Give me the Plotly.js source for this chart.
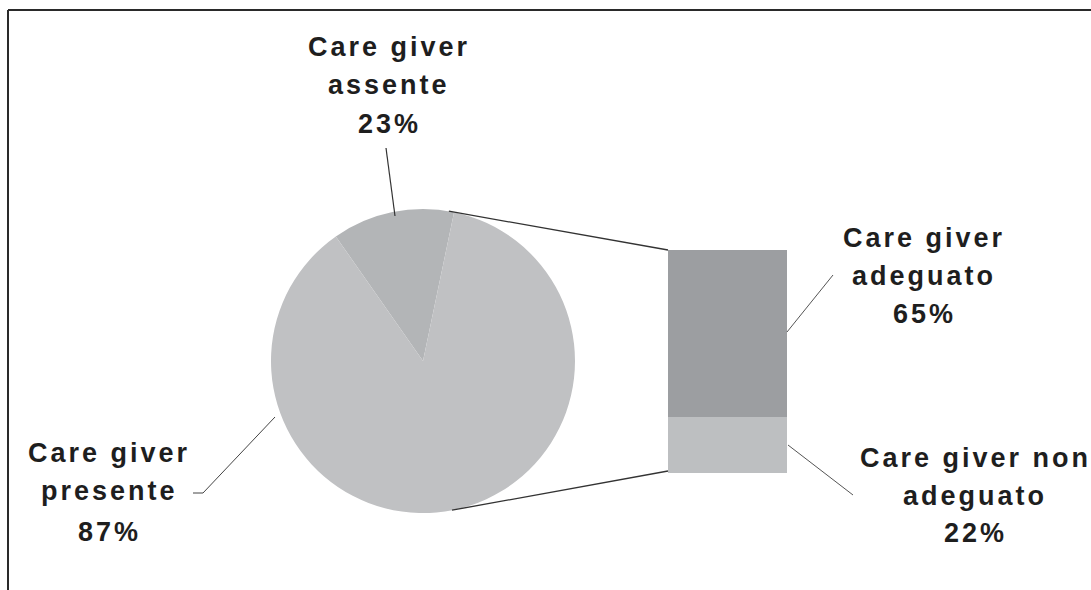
<!DOCTYPE html>
<html>
<head>
<meta charset="utf-8">
<script src="https://cdn.plot.ly/plotly-3.0.1.min.js"></script>
<style>
  html, body { margin: 0; padding: 0; background: #ffffff; }
  #chart { width: 1091px; height: 590px; }
  .annotation-text { letter-spacing: 3px; }
</style>
</head>
<body>
<div id="chart"></div>
<script>
// ---------------- data ----------------
// Pie: care giver absent / present (slice sizes as drawn)
const pieCategories = ['Care giver assente', 'Care giver presente'];
const pieValues = [13, 87];
const pieLabelLines = [['Care giver', 'assente', '23%'], ['Care giver', 'presente', '87%']];

// Bar (breakdown of "presente"), stacked bottom -> top
const barCategories = ['Care giver non adeguato', 'Care giver adeguato'];
const barValues = [22, 65];
const barLabelLines = [['Care giver non', 'adeguato', '22%'], ['Care giver', 'adeguato', '65%']];

// ---------------- layout geometry ----------------
const W = 1091, H = 590;
const px = x => x / W;
const py = y => 1 - y / H;

const pieCx = 423, pieCy = 361, pieR = 152;
const barLeft = 668, barRight = 787, barTop = 250, barBottom = 473;

const pieColors = ['#b3b5b7', '#c0c1c3'];
const barColors = ['#bdbfc1', '#9c9ea1'];

const fontSize = 27;
const baselineOffset = 0.347 * fontSize;

const pieTrace = {
  type: 'pie',
  labels: pieCategories,
  values: pieValues,
  sort: false,
  direction: 'clockwise',
  rotation: -35,
  textinfo: 'none',
  hoverinfo: 'label+value',
  showlegend: false,
  marker: { colors: pieColors, line: { width: 0 } },
  domain: {
    x: [px(pieCx - pieR), px(pieCx + pieR)],
    y: [py(pieCy + pieR), py(pieCy - pieR)]
  }
};

const barTraces = barCategories.map((name, i) => ({
  type: 'bar',
  name: name,
  x: ['presente'],
  y: [barValues[i]],
  xaxis: 'x2',
  yaxis: 'y2',
  marker: { color: barColors[i], line: { width: 0 } },
  showlegend: false,
  hoverinfo: 'name+y'
}));

// pie slice angles (clockwise from 12 o'clock)
const total = pieValues.reduce((a, b) => a + b, 0);
const startDeg = -35;
const endDeg = startDeg + 360 * pieValues[0] / total;
const rad = d => d * Math.PI / 180;
const piePoint = (deg) => [pieCx + pieR * Math.sin(rad(deg)), pieCy - pieR * Math.cos(rad(deg))];

const topP = piePoint(endDeg - 2);
const botP = piePoint(169);

function lineShape(x0, y0, x1, y1, w, c) {
  return { type: 'line', xref: 'paper', yref: 'paper',
    x0: px(x0), y0: py(y0), x1: px(x1), y1: py(y1),
    line: { color: c || '#333333', width: w || 1.2 } };
}

const shapes = [
  // frame (top + left)
  lineShape(8, 590, 8, 10, 2, '#2a2a2a'),
  lineShape(8, 10, 1091, 10, 2, '#2a2a2a'),
  // connectors pie -> bar
  lineShape(topP[0], topP[1], barLeft, barTop, 1.3),
  lineShape(botP[0], botP[1], barLeft, barBottom - 2, 1.3),
  // leader lines
  lineShape(386, 148, 395, 216, 1.2),
  lineShape(787, 332, 833, 275, 1.0, '#555555'),
  lineShape(788, 445, 853, 495, 1.0, '#555555'),
  lineShape(275, 417, 203, 493, 1.0, '#444444'),
  lineShape(203, 493, 193, 493, 1.0, '#444444')
];

// label blocks: centre x and baseline of each line
const labelBlocks = [
  { lines: pieLabelLines[0], cx: 389, baselines: [56, 94, 133] },
  { lines: pieLabelLines[1], cx: 109, baselines: [462, 500, 541] },
  { lines: barLabelLines[1], cx: 924, baselines: [247, 285, 323] },
  { lines: barLabelLines[0], cx: 975, baselines: [467, 505, 542] }
];

const annotations = [];
labelBlocks.forEach(b => {
  b.lines.forEach((t, i) => {
    annotations.push({
      text: t, showarrow: false,
      xref: 'paper', yref: 'paper',
      x: px(b.cx), y: py(b.baselines[i] - baselineOffset),
      xanchor: 'center', yanchor: 'middle',
      font: { family: 'Liberation Sans, Arial, sans-serif', size: fontSize, color: '#1e1e1e', weight: 'bold' }
    });
  });
});

const layout = {
  width: W, height: H,
  margin: { l: 0, r: 0, t: 0, b: 0 },
  paper_bgcolor: '#ffffff',
  plot_bgcolor: 'rgba(0,0,0,0)',
  showlegend: false,
  barmode: 'stack',
  bargap: 0,
  xaxis: { visible: false },
  yaxis: { visible: false },
  xaxis2: { domain: [px(barLeft), px(barRight)], anchor: 'y2', type: 'category',
            range: [-0.5, 0.5], visible: false, fixedrange: true },
  yaxis2: { domain: [py(barBottom), py(barTop)], anchor: 'x2',
            range: [0, barValues.reduce((a, b) => a + b, 0)], visible: false, fixedrange: true },
  shapes: shapes,
  annotations: annotations
};

Plotly.newPlot('chart', [pieTrace].concat(barTraces), layout, { displayModeBar: false, staticPlot: true });
</script>
</body>
</html>
